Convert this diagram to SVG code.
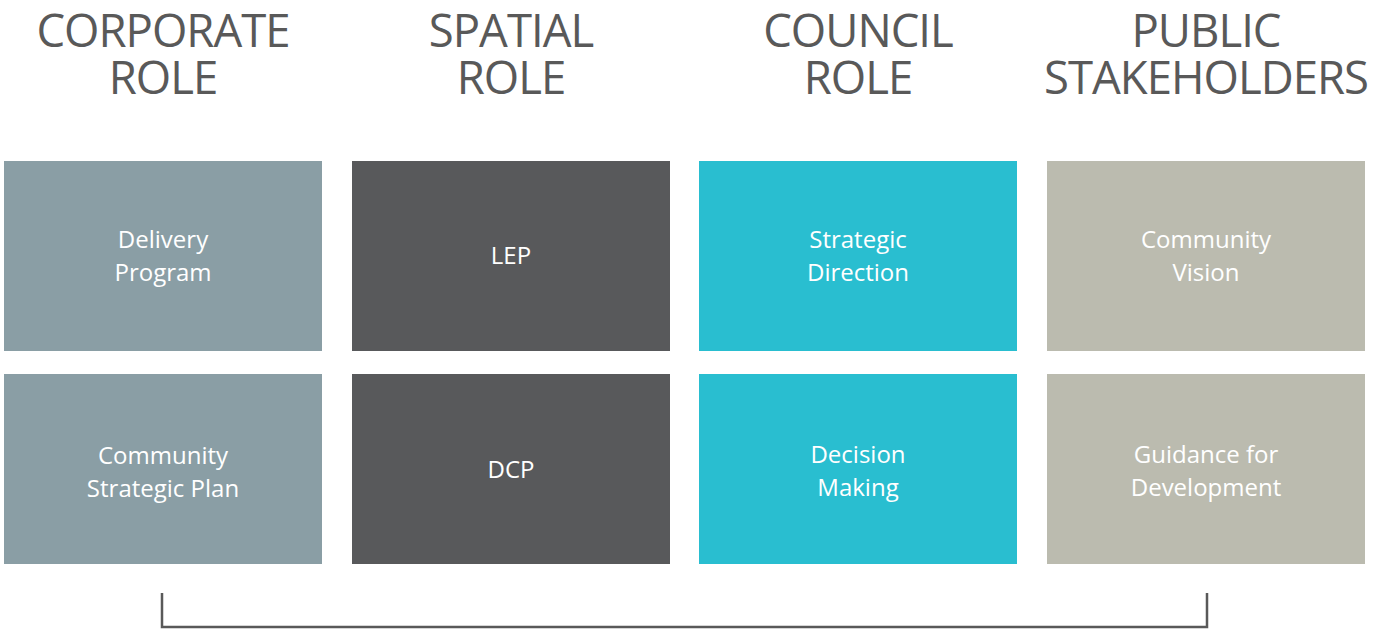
<svg xmlns="http://www.w3.org/2000/svg" width="1385" height="629" viewBox="0 0 1385 629">
<style>
.h{font-family:"Open Sans","Noto Sans","Liberation Sans",sans-serif;font-size:45.5px;fill:#595959;text-anchor:middle;letter-spacing:-1px}
.t{font-family:"Open Sans","Noto Sans","Liberation Sans",sans-serif;font-size:24px;fill:#ffffff;text-anchor:middle}
.c1{fill:#8a9ea5}.c2{fill:#58595b}.c3{fill:#29bed0}.c4{fill:#bbbbaf}
</style>
<rect width="1385" height="629" fill="#ffffff"/>
<g id="headers">
<text class="h"><tspan x="163" y="47">CORPORATE</tspan><tspan x="163" y="94">ROLE</tspan></text>
<text class="h"><tspan x="511" y="47">SPATIAL</tspan><tspan x="511" y="94">ROLE</tspan></text>
<text class="h"><tspan x="858" y="47">COUNCIL</tspan><tspan x="858" y="94">ROLE</tspan></text>
<text class="h"><tspan x="1206" y="47">PUBLIC</tspan><tspan x="1206" y="94">STAKEHOLDERS</tspan></text>
</g>
<g id="delivery-program"><rect class="c1" x="4" y="161" width="318" height="190"/><text class="t" x="163" y="248">Delivery</text><text class="t" x="163" y="281">Program</text></g>
<g id="csp"><rect class="c1" x="4" y="374" width="318" height="190"/><text class="t" x="163" y="464">Community</text><text class="t" x="163" y="497">Strategic Plan</text></g>
<g id="lep"><rect class="c2" x="352" y="161" width="318" height="190"/><text class="t" x="511" y="264">LEP</text></g>
<g id="dcp"><rect class="c2" x="352" y="374" width="318" height="190"/><text class="t" x="511" y="478">DCP</text></g>
<g id="strategic-direction"><rect class="c3" x="699" y="161" width="318" height="190"/><text class="t" x="858" y="248">Strategic</text><text class="t" x="858" y="281">Direction</text></g>
<g id="decision-making"><rect class="c3" x="699" y="374" width="318" height="190"/><text class="t" x="858" y="463">Decision</text><text class="t" x="858" y="496">Making</text></g>
<g id="community-vision"><rect class="c4" x="1047" y="161" width="318" height="190"/><text class="t" x="1206" y="248">Community</text><text class="t" x="1206" y="281">Vision</text></g>
<g id="guidance"><rect class="c4" x="1047" y="374" width="318" height="190"/><text class="t" x="1206" y="463">Guidance for</text><text class="t" x="1206" y="496">Development</text></g>
<g id="connectors"><path d="M162 593 V627 H1207 V593" fill="none" stroke="#595959" stroke-width="2.5"/></g>
</svg>
